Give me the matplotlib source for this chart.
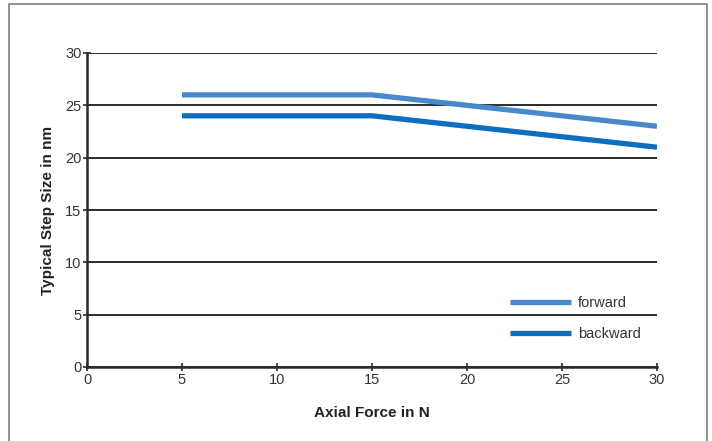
import matplotlib.pyplot as plt
from matplotlib.patches import Rectangle

# axial force vs. step size
force = [5, 15, 30]
forward = [26, 26, 23]
backward = [24, 24, 21]
xticks = [0, 5, 10, 15, 20, 25, 30]
yticks = [0, 5, 10, 15, 20, 25, 30]

plt.rcParams['font.family'] = ['Liberation Sans Narrow', 'Liberation Sans', 'DejaVu Sans']

fig = plt.figure(figsize=(7.12, 4.41), dpi=100)
ax = fig.add_axes([87 / 712, 1 - 367 / 441, 570 / 712, 314 / 441])

# grey frame around the whole figure
fig.patches.append(Rectangle((9 / 712, -0.05), 698 / 712, 1 - 4 / 441 + 0.05,
                             transform=fig.transFigure, fill=False,
                             edgecolor='#808080', linewidth=1.2))

ax.plot(force, forward, color='#4a88cc', linewidth=3.8, label='forward',
        solid_capstyle='butt', zorder=3)
ax.plot(force, backward, color='#0d6dbf', linewidth=3.8, label='backward',
        solid_capstyle='butt', zorder=3)

ax.set_xlim(0, 30)
ax.set_ylim(0, 30)
ax.set_xticks(xticks)
ax.set_yticks(yticks)
ax.yaxis.grid(True, color='#1a1a1a', linewidth=1.3)
ax.set_axisbelow(True)

for side in ['top', 'right']:
    ax.spines[side].set_visible(False)
for side in ['left', 'bottom']:
    ax.spines[side].set_color('#2a2a2a')
    ax.spines[side].set_linewidth(1.8)

ax.tick_params(direction='inout', length=6, width=1.2, color='#2a2a2a',
               labelsize=10.5, labelcolor='#333333', pad=1)

ax.set_xlabel('Axial Force in N', fontsize=11, fontweight='bold',
              color='#222222', labelpad=14)
ax.set_ylabel('Typical Step Size in nm', fontsize=11, fontweight='bold',
              color='#222222', labelpad=7)

leg = ax.legend(loc='lower right', bbox_to_anchor=(0.995, 0.04), frameon=False,
                fontsize=10.5, handlelength=4.2, labelspacing=1.2,
                handletextpad=0.5)
for t in leg.get_texts():
    t.set_color('#333333')

fig.savefig('out.png', dpi=100)
